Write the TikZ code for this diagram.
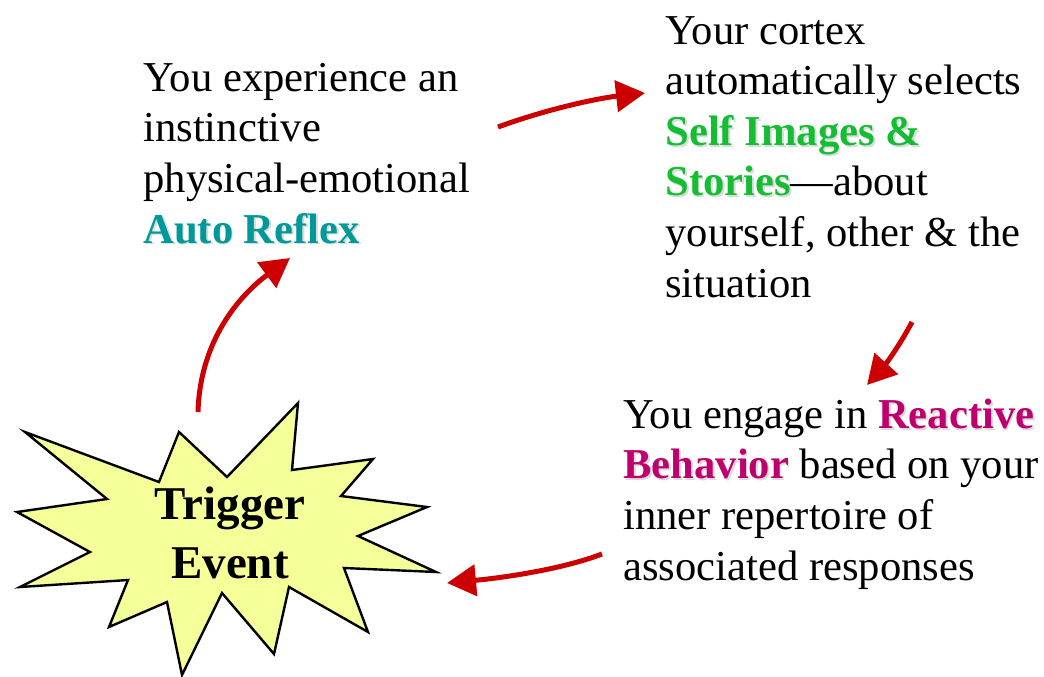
\documentclass[tikz,border=0pt]{standalone}
\usepackage{fontspec}
\setmainfont{Liberation Serif}
\usetikzlibrary{arrows.meta,positioning}
\definecolor{arrred}{RGB}{204,0,0}
\definecolor{reflexteal}{RGB}{0,153,153}
\definecolor{storygreen}{RGB}{20,190,50}
\definecolor{behavmag}{RGB}{190,0,110}
\definecolor{burstfill}{RGB}{245,255,153}
\newcommand{\shadowed}[2]{\makebox[0pt][l]{\kern0.9pt\raisebox{-0.9pt}{\textcolor{black!14}{\textbf{#2}}}}\textcolor{#1}{\textbf{#2}}}

\begin{document}
\begin{tikzpicture}[x=0.5pt,y=-0.5pt,
    txt/.style={anchor=base west,align=left,inner sep=0pt,font=\fontsize{21.3}{25.3}\selectfont},
    flow/.style={draw=arrred,line width=2.5pt,-{Triangle[length=14.5pt,width=15.5pt]}},
    burst/.style={draw=black,line width=1.2pt,fill=burstfill,line join=miter}]
 \useasboundingbox (0,0) rectangle (1044,676);
 % star burst
 \draw[burst] (25,432) -- (159,482) -- (179,432) -- (227,477) -- (298,403) -- (292,470)
  -- (373,459) -- (341,496) -- (427,507) -- (358,536) -- (436,572) -- (344,568)
  -- (368,632) -- (289,587) -- (274,654) -- (222,593) -- (182,675) -- (167,602)
  -- (109,627) -- (128,580) -- (20,587) -- (90,552) -- (17,512) -- (107,499) -- cycle;
 \node[align=center,inner sep=0pt,font=\fontsize{23.5}{29.5}\selectfont\bfseries] (trigger) at (230,533)
  {Trigger\\Event};
 % text blocks, placed at the baseline of their last line
 \node[txt] (reflex) at (143,243)
  {You experience an\\instinctive\\physical-emotional\\\shadowed{reflexteal}{Auto Reflex}};
 \node[txt] (cortex) at (665,297)
  {Your cortex\\automatically selects\\\shadowed{storygreen}{Self Images \&}\\
   \shadowed{storygreen}{Stories}---about\\yourself, other \& the\\situation};
 \node[txt] (behavior) at (623,580)
  {You engage in \shadowed{behavmag}{Reactive}\\\shadowed{behavmag}{Behavior} based on your\\
   inner repertoire of\\associated responses};
 % arrow ends
 \coordinate (trigger out) at (198,412);
 \coordinate (reflex in) at (290,258);
 \coordinate (reflex out) at (498,127);
 \coordinate (cortex in) at (645,93);
 \coordinate (cortex out) at (912,322);
 \coordinate (behavior in) at (867,385);
 \coordinate (behavior out) at (602,554);
 \coordinate (trigger in) at (447,583);
 \draw[flow] (trigger out) .. controls (200,340) and (240,295) .. (reflex in);
 \draw[flow] (reflex out) .. controls (550,108) and (600,98) .. (cortex in);
 \draw[flow] (cortex out) .. controls (900,345) and (885,365) .. (behavior in);
 \draw[flow] (behavior out) .. controls (560,570) and (500,578) .. (trigger in);
\end{tikzpicture}
\end{document}
